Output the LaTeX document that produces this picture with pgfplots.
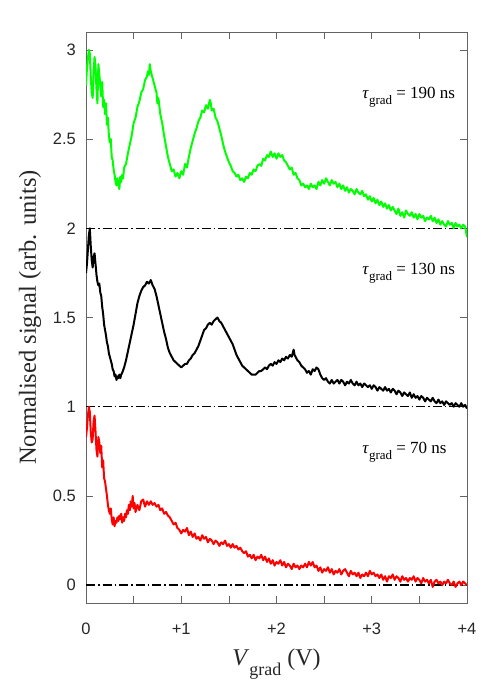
\documentclass[border=0pt]{standalone}
\usepackage{fontspec}
\setmainfont{Liberation Serif}
\newfontfamily\arial{Liberation Sans}
\usepackage{pgfplots}
\pgfplotsset{compat=1.18}
\definecolor{axgray}{RGB}{100,100,100}
\definecolor{tickgray}{RGB}{38,38,38}
\begin{document}
\begin{tikzpicture}
\useasboundingbox (0,0) rectangle (493pt,683pt);
\begin{axis}[
  at={(86pt,80pt)}, anchor=south west,
  scale only axis, width=381pt, height=571pt,
  xmin=0, xmax=4, ymin=-0.1, ymax=3.1,
  xtick={0,1,2,3,4}, xticklabels={0,+1,+2,+3,+4},
  minor xtick={0.5,1.5,2.5,3.5},
  ytick={0,0.5,1,1.5,2,2.5,3},
  tick align=inside, major tick length=7pt, minor tick length=7pt,
  axis line style={axgray, line width=0.6pt},
  every tick/.style={axgray, line width=0.6pt},
  every minor tick/.style={axgray, line width=0.6pt},
  /pgf/number format/assume math mode=true,
  tick label style={font=\arial\fontsize{16.5}{16.5}\selectfont, text=tickgray},
  xticklabel style={anchor=base, inner sep=0pt, yshift=-31pt},
  yticklabel style={anchor=east, inner sep=0pt, xshift=-10pt},
  every axis x label/.style={at={(rel axis cs:0.5,0)}, anchor=base, yshift=-62pt, font=\fontsize{24}{24}\selectfont, text=tickgray},
  every axis y label/.style={at={(rel axis cs:-0.147,0.5)}, rotate=90, anchor=center, font=\fontsize{24.5}{24.5}\selectfont, text=tickgray},
  xlabel={\textit{V}\raisebox{-10pt}{\fontsize{18}{18}\selectfont grad} (V)},
  ylabel={Normalised signal (arb. units)},
  clip=true,
]
% reference lines
\addplot[black, line width=1.5pt, dash pattern=on 9pt off 3pt on 1.5pt off 3pt] coordinates {(0,0) (4,0)};
\addplot[black, line width=1.5pt, dash pattern=on 9pt off 3pt on 1.5pt off 3pt] coordinates {(0,1) (4,1)};
\addplot[black, line width=1.5pt, dash pattern=on 9pt off 3pt on 1.5pt off 3pt] coordinates {(0,2) (4,2)};
% tau = 190 ns (green)
\addplot[color={rgb,1:red,0;green,1;blue,0}, line width=2pt, line join=round] table {
0.000 2.80
0.010 2.90
0.020 2.95
0.030 3.00
0.040 2.98
0.050 2.85
0.060 2.76
0.070 2.73
0.080 2.88
0.090 2.96
0.100 2.90
0.110 2.78
0.120 2.70
0.130 2.92
0.140 2.86
0.150 2.80
0.160 2.74
0.170 2.82
0.180 2.68
0.190 2.72
0.200 2.64
0.210 2.70
0.220 2.58
0.230 2.62
0.240 2.52
0.250 2.48
0.260 2.50
0.270 2.40
0.280 2.38
0.290 2.33
0.300 2.30
0.310 2.26
0.320 2.24
0.330 2.28
0.340 2.25
0.350 2.22
0.360 2.29
0.370 2.26
0.380 2.30
0.390 2.28
0.400 2.34
0.420 2.36
0.440 2.42
0.460 2.47
0.480 2.52
0.500 2.59
0.520 2.62
0.540 2.68
0.560 2.71
0.580 2.76
0.600 2.78
0.620 2.83
0.640 2.85
0.650 2.88
0.660 2.86
0.670 2.92
0.680 2.88
0.700 2.84
0.720 2.80
0.740 2.76
0.750 2.70
0.760 2.73
0.780 2.64
0.800 2.59
0.820 2.52
0.840 2.46
0.860 2.40
0.880 2.36
0.900 2.32
0.920 2.33
0.940 2.29
0.960 2.31
0.980 2.28
1.000 2.32
1.020 2.30
1.040 2.36
1.060 2.34
1.080 2.40
1.100 2.45
1.120 2.49
1.140 2.53
1.160 2.56
1.180 2.60
1.200 2.62
1.220 2.66
1.240 2.65
1.260 2.69
1.280 2.67
1.300 2.72
1.310 2.70
1.320 2.66
1.340 2.67
1.360 2.62
1.380 2.60
1.400 2.56
1.420 2.52
1.440 2.47
1.460 2.43
1.480 2.40
1.500 2.37
1.520 2.35
1.540 2.32
1.560 2.31
1.580 2.29
1.600 2.30
1.620 2.27
1.640 2.28
1.660 2.26
1.680 2.29
1.700 2.28
1.720 2.31
1.740 2.30
1.760 2.33
1.780 2.32
1.800 2.35
1.820 2.36
1.840 2.35
1.860 2.39
1.880 2.38
1.900 2.41
1.920 2.40
1.940 2.43
1.960 2.40
1.980 2.42
2.000 2.39
2.020 2.42
2.040 2.40
2.060 2.41
2.080 2.38
2.100 2.37
2.120 2.35
2.140 2.33
2.160 2.34
2.180 2.30
2.200 2.31
2.220 2.28
2.240 2.27
2.260 2.24
2.280 2.25
2.300 2.23
2.320 2.24
2.340 2.22
2.360 2.25
2.380 2.23
2.400 2.24
2.420 2.22
2.440 2.26
2.460 2.24
2.480 2.27
2.500 2.25
2.520 2.28
2.540 2.26
2.560 2.24
2.580 2.27
2.600 2.25
2.620 2.26
2.640 2.23
2.660 2.25
2.680 2.22
2.700 2.24
2.720 2.21
2.740 2.23
2.760 2.20
2.780 2.22
2.800 2.21
2.820 2.19
2.840 2.22
2.860 2.20
2.880 2.19
2.900 2.21
2.920 2.18
2.940 2.19
2.960 2.16
2.980 2.18
3.000 2.15
3.020 2.17
3.040 2.14
3.060 2.16
3.080 2.13
3.100 2.15
3.120 2.12
3.140 2.14
3.160 2.11
3.180 2.13
3.200 2.10
3.220 2.12
3.240 2.10
3.260 2.08
3.280 2.11
3.300 2.07
3.320 2.09
3.340 2.06
3.360 2.10
3.380 2.08
3.400 2.07
3.420 2.09
3.440 2.06
3.460 2.08
3.480 2.05
3.500 2.08
3.520 2.06
3.540 2.07
3.560 2.04
3.580 2.06
3.600 2.05
3.620 2.07
3.640 2.04
3.660 2.06
3.680 2.03
3.700 2.05
3.720 2.02
3.740 2.04
3.760 2.02
3.780 2.01
3.800 2.04
3.820 2.02
3.840 2.03
3.860 2.00
3.880 2.03
3.900 2.01
3.920 2.02
3.940 2.00
3.960 2.02
3.980 2.01
4.000 1.95
};
% tau = 130 ns (black)
\addplot[black, line width=2pt, line join=round] table {
0.000 1.75
0.010 1.80
0.020 1.88
0.030 1.96
0.040 2.00
0.050 1.90
0.060 1.82
0.070 1.78
0.080 1.84
0.090 1.86
0.100 1.80
0.110 1.74
0.120 1.70
0.130 1.68
0.140 1.69
0.150 1.64
0.160 1.62
0.170 1.56
0.180 1.52
0.190 1.46
0.200 1.43
0.210 1.40
0.220 1.36
0.230 1.34
0.240 1.30
0.250 1.28
0.260 1.26
0.270 1.24
0.280 1.21
0.290 1.20
0.300 1.17
0.310 1.18
0.320 1.15
0.330 1.17
0.340 1.16
0.350 1.18
0.360 1.16
0.370 1.18
0.380 1.19
0.400 1.22
0.420 1.26
0.440 1.31
0.460 1.36
0.480 1.41
0.500 1.46
0.520 1.52
0.540 1.58
0.560 1.62
0.580 1.65
0.600 1.67
0.620 1.68
0.640 1.70
0.660 1.69
0.680 1.71
0.700 1.68
0.720 1.66
0.740 1.62
0.760 1.57
0.780 1.52
0.800 1.47
0.820 1.42
0.840 1.38
0.860 1.33
0.880 1.30
0.900 1.28
0.920 1.26
0.940 1.25
0.960 1.24
0.980 1.23
1.000 1.22
1.020 1.23
1.040 1.24
1.060 1.24
1.080 1.26
1.100 1.27
1.120 1.29
1.140 1.30
1.160 1.32
1.180 1.34
1.200 1.37
1.220 1.40
1.240 1.43
1.260 1.44
1.280 1.46
1.300 1.47
1.320 1.46
1.340 1.48
1.360 1.49
1.380 1.50
1.400 1.48
1.420 1.47
1.440 1.45
1.460 1.43
1.480 1.41
1.500 1.39
1.520 1.37
1.540 1.35
1.560 1.32
1.580 1.29
1.600 1.27
1.620 1.25
1.640 1.23
1.660 1.22
1.680 1.21
1.700 1.20
1.720 1.19
1.740 1.18
1.760 1.18
1.780 1.18
1.800 1.19
1.820 1.20
1.840 1.20
1.860 1.21
1.880 1.22
1.900 1.21
1.920 1.23
1.940 1.24
1.960 1.23
1.980 1.25
2.000 1.24
2.020 1.26
2.040 1.25
2.060 1.27
2.080 1.26
2.100 1.28
2.120 1.27
2.140 1.29
2.160 1.28
2.180 1.32
2.190 1.29
2.200 1.28
2.220 1.26
2.240 1.25
2.260 1.23
2.280 1.22
2.300 1.21
2.320 1.19
2.340 1.20
2.360 1.18
2.380 1.21
2.400 1.20
2.420 1.22
2.440 1.21
2.460 1.18
2.480 1.16
2.500 1.15
2.520 1.16
2.540 1.14
2.560 1.13
2.580 1.15
2.600 1.13
2.620 1.14
2.640 1.15
2.660 1.13
2.680 1.15
2.700 1.14
2.720 1.12
2.740 1.14
2.760 1.13
2.780 1.15
2.800 1.13
2.820 1.12
2.840 1.14
2.860 1.12
2.880 1.13
2.900 1.11
2.920 1.13
2.940 1.12
2.960 1.11
2.980 1.12
3.000 1.10
3.020 1.12
3.040 1.11
3.060 1.09
3.080 1.11
3.100 1.10
3.120 1.09
3.140 1.11
3.160 1.09
3.180 1.10
3.200 1.08
3.220 1.10
3.240 1.09
3.260 1.07
3.280 1.09
3.300 1.08
3.320 1.06
3.340 1.08
3.360 1.07
3.380 1.06
3.400 1.08
3.420 1.05
3.440 1.07
3.460 1.05
3.480 1.06
3.500 1.04
3.520 1.06
3.540 1.05
3.560 1.03
3.580 1.05
3.600 1.04
3.620 1.03
3.640 1.05
3.660 1.03
3.680 1.02
3.700 1.04
3.720 1.02
3.740 1.03
3.760 1.01
3.780 1.03
3.800 1.02
3.820 1.01
3.840 1.02
3.860 1.00
3.880 1.02
3.900 1.01
3.920 1.00
3.940 1.02
3.960 1.00
3.980 1.01
4.000 0.99
};
% tau = 70 ns (red)
\addplot[color={rgb,1:red,1;green,0;blue,0}, line width=2pt, line join=round] table {
0.000 0.83
0.010 0.88
0.020 0.95
0.030 1.00
0.040 0.97
0.050 0.86
0.060 0.80
0.070 0.82
0.080 0.92
0.090 0.95
0.100 0.86
0.110 0.76
0.120 0.72
0.130 0.83
0.140 0.80
0.150 0.74
0.160 0.78
0.170 0.66
0.180 0.70
0.190 0.60
0.200 0.58
0.210 0.54
0.220 0.50
0.230 0.45
0.240 0.42
0.250 0.40
0.260 0.43
0.270 0.37
0.280 0.34
0.290 0.38
0.300 0.33
0.310 0.36
0.320 0.35
0.330 0.38
0.340 0.36
0.350 0.39
0.360 0.37
0.370 0.40
0.380 0.35
0.390 0.38
0.400 0.36
0.410 0.40
0.420 0.38
0.430 0.42
0.440 0.40
0.450 0.45
0.460 0.42
0.470 0.47
0.480 0.44
0.490 0.50
0.500 0.43
0.510 0.46
0.520 0.41
0.540 0.45
0.560 0.42
0.580 0.47
0.600 0.48
0.620 0.44
0.640 0.47
0.660 0.45
0.680 0.47
0.700 0.45
0.720 0.46
0.740 0.44
0.760 0.45
0.780 0.42
0.800 0.43
0.820 0.40
0.840 0.41
0.860 0.39
0.880 0.38
0.900 0.36
0.920 0.34
0.940 0.35
0.960 0.32
0.980 0.31
1.000 0.29
1.020 0.31
1.040 0.30
1.060 0.32
1.080 0.28
1.100 0.30
1.120 0.27
1.140 0.29
1.160 0.26
1.180 0.27
1.200 0.25
1.220 0.28
1.240 0.26
1.260 0.27
1.280 0.24
1.300 0.26
1.320 0.25
1.340 0.23
1.360 0.25
1.380 0.24
1.400 0.22
1.420 0.24
1.440 0.23
1.460 0.25
1.480 0.22
1.500 0.23
1.520 0.21
1.540 0.23
1.560 0.21
1.580 0.22
1.600 0.20
1.620 0.21
1.640 0.19
1.660 0.18
1.680 0.19
1.700 0.16
1.720 0.17
1.740 0.15
1.760 0.17
1.780 0.14
1.800 0.16
1.820 0.15
1.840 0.17
1.860 0.14
1.880 0.16
1.900 0.13
1.920 0.15
1.940 0.12
1.960 0.14
1.980 0.11
2.000 0.13
2.020 0.12
2.040 0.14
2.060 0.11
2.080 0.13
2.100 0.10
2.120 0.12
2.140 0.11
2.160 0.09
2.180 0.12
2.200 0.10
2.220 0.11
2.240 0.09
2.260 0.11
2.280 0.10
2.300 0.12
2.320 0.10
2.340 0.13
2.360 0.11
2.380 0.13
2.400 0.10
2.420 0.11
2.440 0.08
2.460 0.10
2.480 0.07
2.500 0.09
2.520 0.08
2.540 0.10
2.560 0.07
2.580 0.09
2.600 0.06
2.620 0.08
2.640 0.07
2.660 0.09
2.680 0.06
2.700 0.08
2.720 0.09
2.740 0.07
2.760 0.05
2.780 0.08
2.800 0.06
2.820 0.07
2.840 0.05
2.860 0.07
2.880 0.04
2.900 0.06
2.920 0.05
2.940 0.07
2.960 0.05
2.980 0.08
3.000 0.06
3.020 0.07
3.040 0.05
3.060 0.06
3.080 0.04
3.100 0.06
3.120 0.03
3.140 0.05
3.160 0.02
3.180 0.05
3.200 0.04
3.220 0.06
3.240 0.03
3.260 0.05
3.280 0.04
3.300 0.02
3.320 0.05
3.340 0.03
3.360 0.04
3.380 0.02
3.400 0.04
3.420 0.03
3.440 0.05
3.460 0.02
3.480 0.04
3.500 0.03
3.520 0.01
3.540 0.04
3.560 0.02
3.580 0.03
3.600 0.01
3.620 0.03
3.640 -0.01
3.660 0.02
3.680 0.03
3.700 0.01
3.720 0.02
3.740 0.00
3.760 0.02
3.780 0.01
3.800 0.03
3.820 0.01
3.840 0.00
3.860 0.02
3.880 -0.01
3.900 0.01
3.920 0.02
3.940 0.00
3.960 0.02
3.980 0.01
4.000 0.00
};
\node[anchor=base west, inner sep=0pt, font=\fontsize{17}{17}\selectfont] at (axis cs:2.9,2.73) {\textit{τ}\raisebox{-6pt}{\fontsize{13}{13}\selectfont grad} = 190 ns};
\node[anchor=base west, inner sep=0pt, font=\fontsize{17}{17}\selectfont] at (axis cs:2.9,1.74) {\textit{τ}\raisebox{-6pt}{\fontsize{13}{13}\selectfont grad} = 130 ns};
\node[anchor=base west, inner sep=0pt, font=\fontsize{17}{17}\selectfont] at (axis cs:2.9,0.74) {\textit{τ}\raisebox{-6pt}{\fontsize{13}{13}\selectfont grad} = 70 ns};
\end{axis}
\end{tikzpicture}
\end{document}
